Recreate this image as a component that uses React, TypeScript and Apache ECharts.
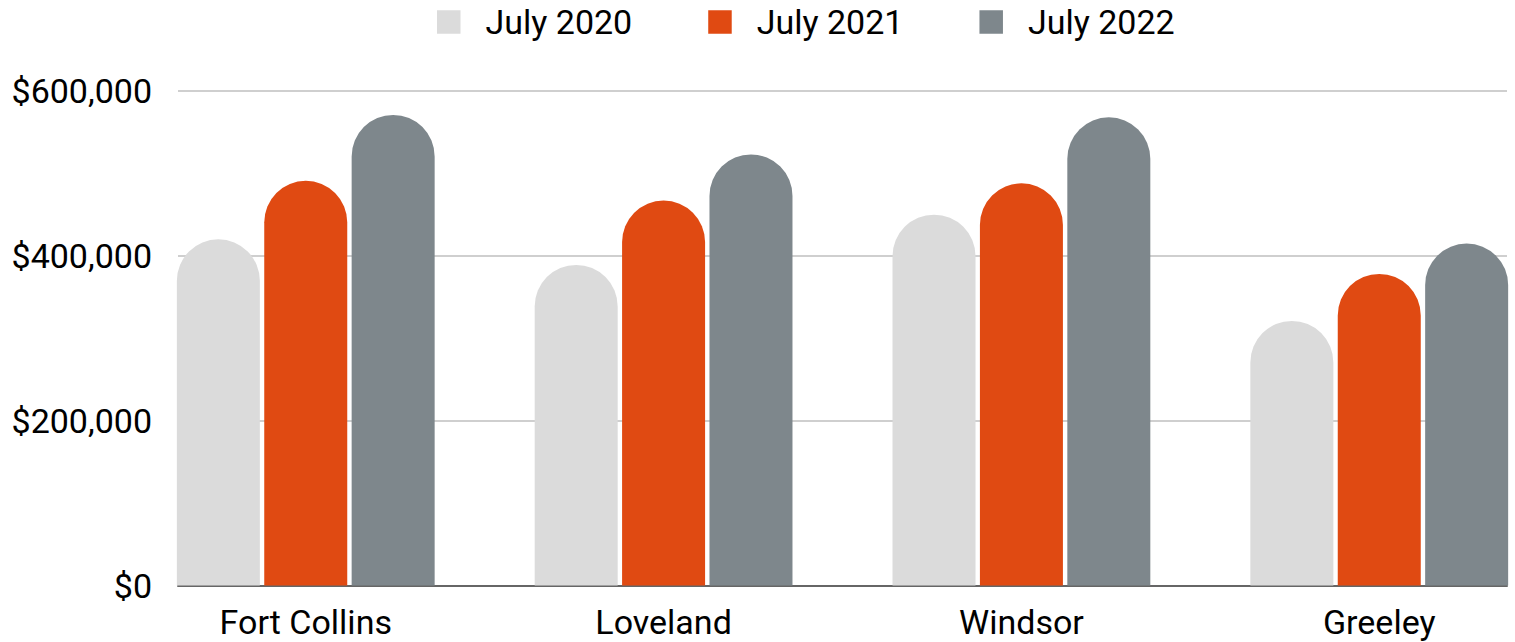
import React, { useEffect, useRef } from "react";
import * as echarts from "echarts";

const cities = ["Fort Collins", "Loveland", "Windsor", "Greeley"];
const seriesNames = ["July 2020", "July 2021", "July 2022"];
const july2020 = [420000, 389000, 450000, 321000];
const july2021 = [491000, 467000, 488000, 378000];
const july2022 = [571000, 523000, 568000, 415000];
const yMin = 0;
const yMax = 600000;
const yInterval = 200000;
const colors = ["#dbdbdb", "#e04a12", "#7e878c"];

const allSeries = [july2020, july2021, july2022];

export default function App() {
  const ref = useRef<HTMLDivElement>(null);

  useEffect(() => {
    document.body.style.margin = "0";
    if (!ref.current) return;
    const chart = echarts.init(ref.current, undefined, { renderer: "svg" });
    const fmtMoney = (v: number) => "$" + v.toLocaleString("en-US");
    chart.setOption({
      animation: false,
      textStyle: { fontFamily: "Roboto" },
      legend: {
        left: 437,
        top: 5,
        padding: 0,
        itemWidth: 23.5,
        itemHeight: 23.5,
        itemGap: 76,
        icon: "rect",
        data: seriesNames,
        textStyle: { fontSize: 34, color: "#000", fontFamily: "Roboto", padding: [0, 0, 0, 20] },
      },
      grid: { left: 178, right: 8, top: 91, bottom: 56.5, containLabel: false },
      xAxis: {
        type: "value",
        min: -0.357,
        max: 3.357,
        splitLine: { show: false },
        axisTick: { show: false },
        axisLine: { show: true, lineStyle: { color: "#666", width: 2 } },
        axisLabel: {
          fontSize: 34,
          color: "#000",
          margin: 19,
          showMinLabel: false,
          showMaxLabel: false,
          formatter: (v: number) => {
            const i = Math.round(v);
            return Math.abs(v - i) < 1e-6 && i >= 0 && i < cities.length ? cities[i] : "";
          },
        },
      },
      yAxis: {
        type: "value",
        min: yMin,
        max: yMax,
        interval: yInterval,
        axisLine: { show: false },
        axisTick: { show: false },
        splitLine: { lineStyle: { color: "#bfbfbf", width: 1.5 } },
        axisLabel: { fontSize: 34, color: "#000", margin: 26, formatter: fmtMoney },
      },
      series: allSeries.map((vals, si) => ({
        name: seriesNames[si],
        type: "bar",
        barWidth: 83,
        barGap: "5.3%",
        itemStyle: { color: colors[si], borderRadius: [41.5, 41.5, 0, 0] },
        data: vals.map((v, i) => [i, v]),
      })),
    });
    return () => chart.dispose();
  }, []);

  return <div ref={ref} style={{ width: 1515, height: 642 }} />;
}
